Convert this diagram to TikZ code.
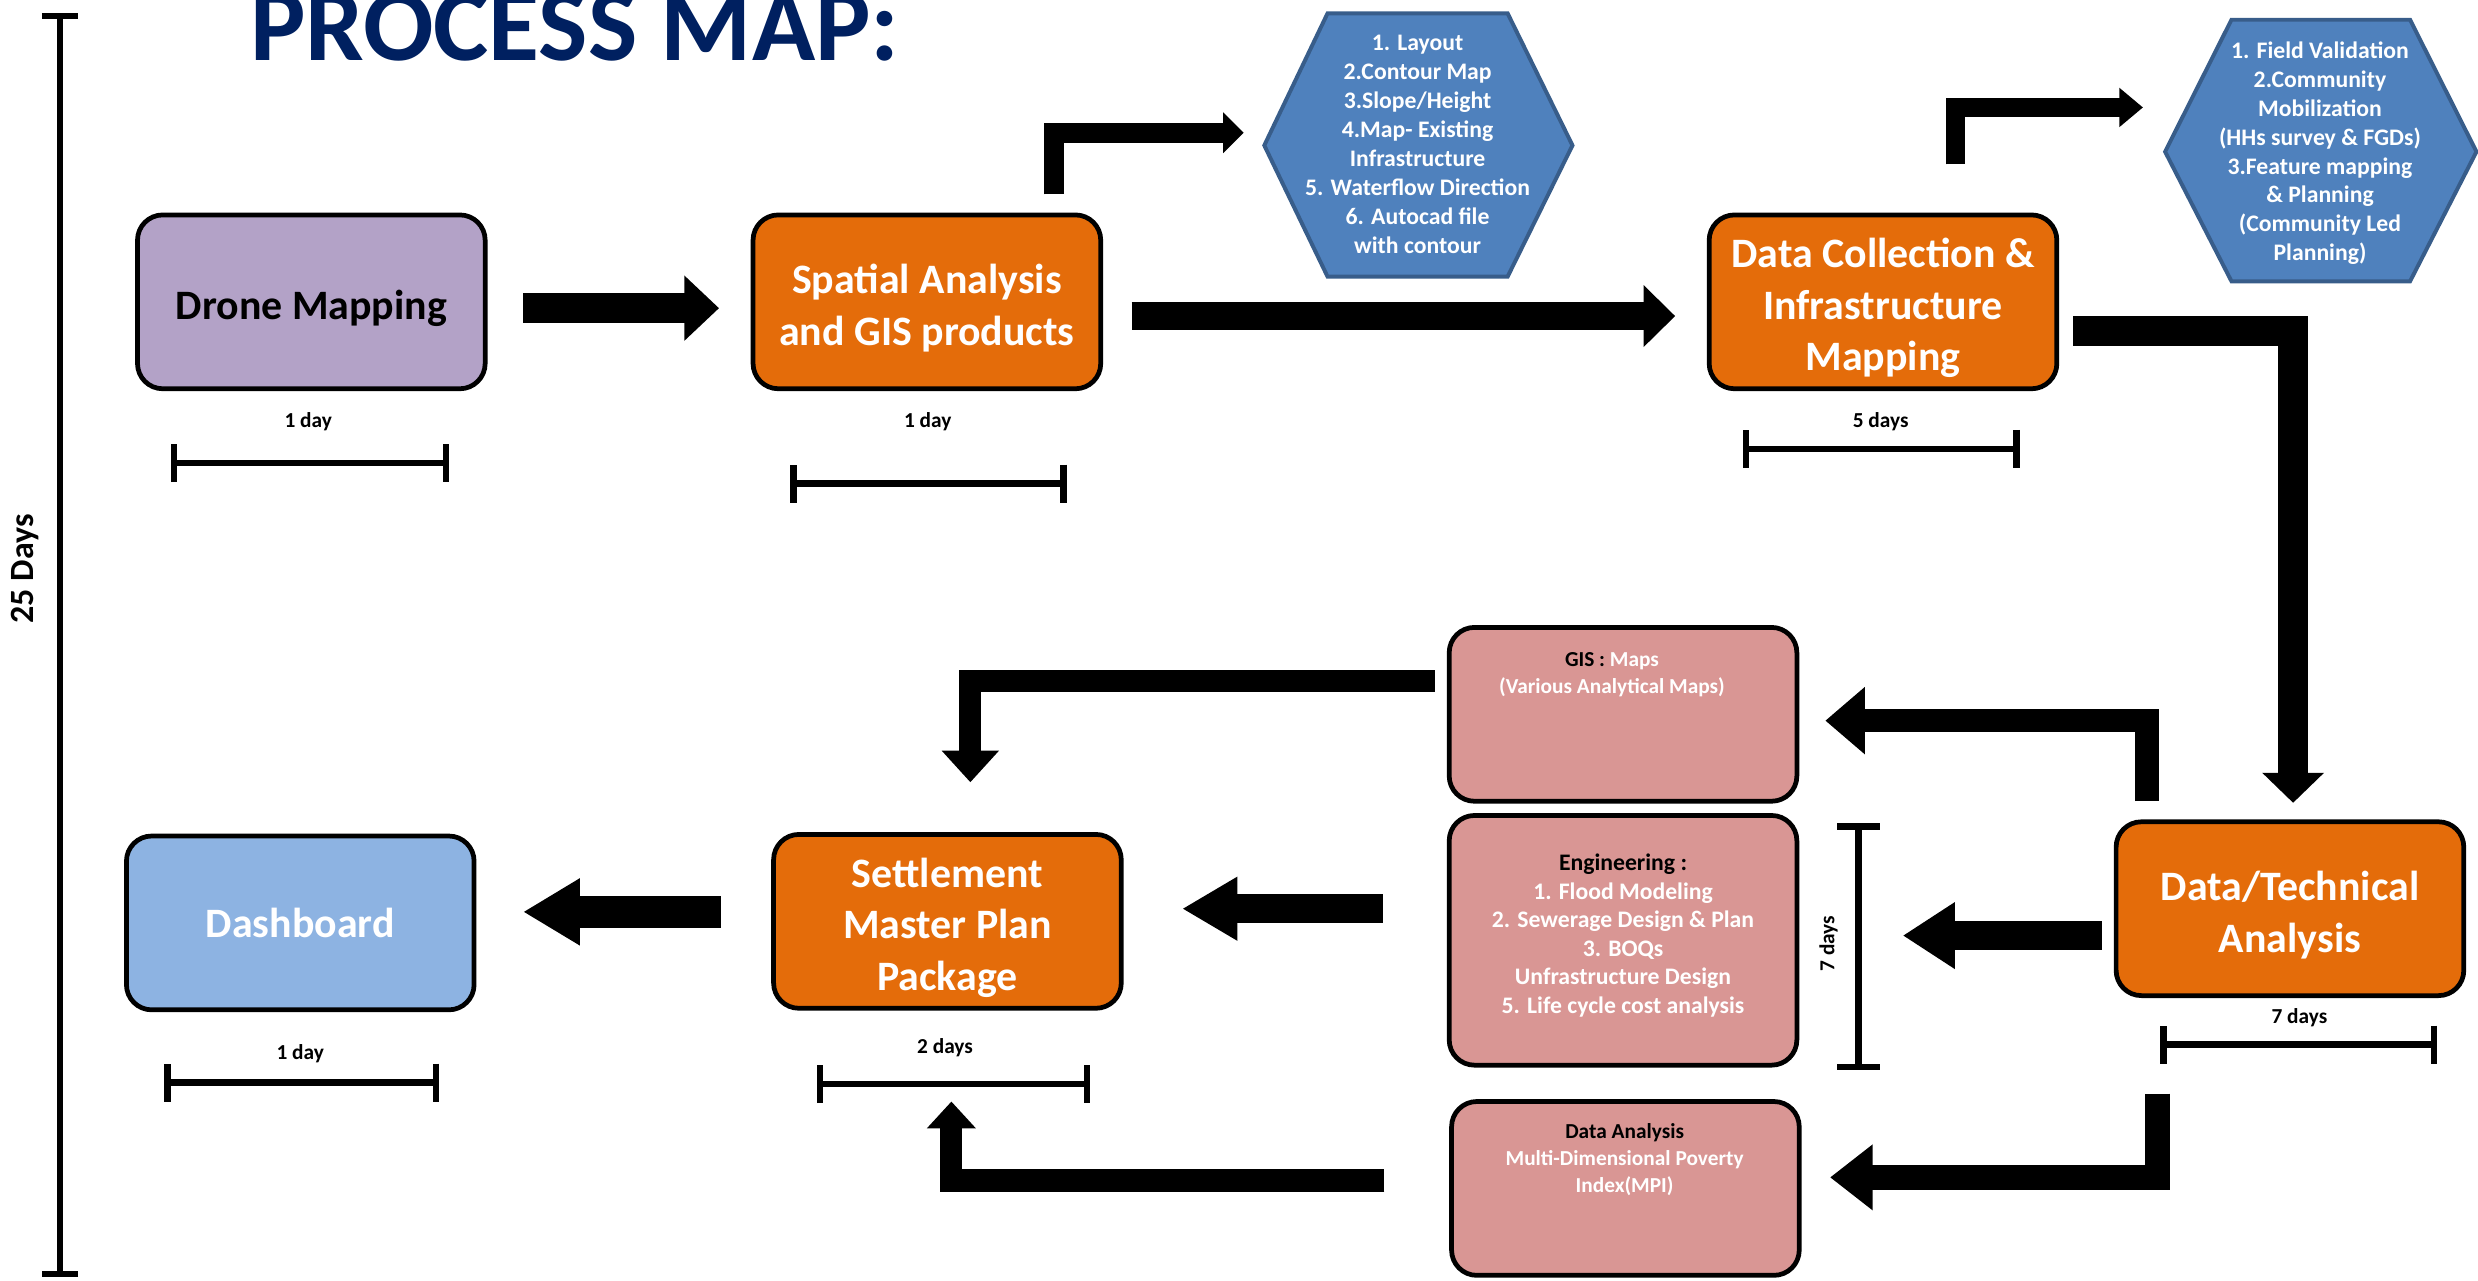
\documentclass[tikz,border=0pt]{standalone}
\usepackage{fontspec}
\setmainfont{Carlito}
\usetikzlibrary{arrows.meta,positioning}

\definecolor{titleblue}{RGB}{0,32,96}
\definecolor{lavender}{RGB}{179,162,199}
\definecolor{procorange}{RGB}{228,108,10}
\definecolor{hexblue}{RGB}{79,129,189}
\definecolor{hexedge}{RGB}{56,93,138}
\definecolor{rosebox}{RGB}{217,150,148}
\definecolor{dashblue}{RGB}{141,179,226}

\newcommand{\titlefont}{\fontsize{66}{70}\selectfont\bfseries}
\newcommand{\mainboxfont}{\fontsize{26.5}{32.5}\selectfont\bfseries}
\newcommand{\hexfont}{\fontsize{15}{18.3}\selectfont\bfseries}
\newcommand{\notefont}{\fontsize{13.5}{17}\selectfont\bfseries}
\newcommand{\engfont}{\fontsize{15}{18}\selectfont\bfseries}
\newcommand{\dayfont}{\fontsize{13.5}{16}\selectfont\bfseries}
\newcommand{\boxstrut}{\rule{0pt}{26.5pt}}

\begin{document}
\begin{tikzpicture}[x=1pt,y=-1pt]
\tikzstyle{every node}=[inner sep=0pt]
\tikzstyle{procbox}=[draw=black,line width=3pt,rounded corners=16pt,minimum width=220pt,minimum height=110pt,align=center,font=\mainboxfont]
\tikzstyle{notebox}=[procbox,fill=rosebox]
\tikzstyle{notetext}=[align=center,font=\notefont,text=white]
\tikzstyle{hexline}=[fill=hexblue,draw=hexedge,line width=2.5pt]
\tikzstyle{hextext}=[align=center,font=\hexfont,text=white]
\tikzstyle{daylabel}=[font=\dayfont]
\tikzstyle{spanbar}=[line width=4pt,{Bar[width=24pt]}-{Bar[width=24pt]}]
\tikzstyle{fatarrow}=[line width=19pt,-{Triangle[length=22pt,width=40pt]}]

\useasboundingbox (0,0) rectangle (1568,810);

\node[anchor=base west,font=\titlefont,text=titleblue] (title) at (158,38) {PROCESS MAP:};

\draw[spanbar,{Bar[width=23pt]}-{Bar[width=23pt]}] (38,8) -- (38,808);
\node[font=\fontsize{21.5}{24}\selectfont\bfseries,rotate=90] (totaldays) at (16,360) {25 Days};

\draw[hexline] (800,92) -- (840,8.5) -- (954,8.5) -- (995,92) -- (954,175) -- (840,175) -- cycle;
\draw[hexline] (1370,96) -- (1412,12.5) -- (1525,12.5) -- (1567,96) -- (1525,178) -- (1412,178) -- cycle;
\node[hextext] (layers) at (897,91.5) {1. Layout\\2.Contour Map\\3.Slope/Height\\4.Map- Existing\\Infrastructure\\5. Waterflow Direction\\6. Autocad file\\ with contour};
\node[hextext] (field) at (1468,97) {1. Field Validation\\2.Community\\Mobilization\\(HHs survey \& FGDs)\\3.Feature mapping\\\& Planning\\(Community Led\\Planning)};

\node[procbox,fill=lavender] (drone) at (197,191) {\boxstrut Drone Mapping};
\node[procbox,fill=procorange,text=white] (spatial) at (586.5,191) {\boxstrut Spatial Analysis\\and GIS products};
\node[procbox,fill=procorange,text=white] (collect) at (1191.5,191) {\boxstrut Data Collection \&\\Infrastructure\\Mapping};
\node[procbox,fill=procorange,text=white] (technical) at (1449,575) {\boxstrut Data/Technical\\Analysis};
\node[procbox,fill=procorange,text=white] (settle) at (599.5,583) {\boxstrut Settlement\\Master Plan\\Package};
\node[procbox,fill=dashblue,text=white] (dash) at (190,584) {Dashboard};

\node[notebox] (gis) at (1027,452) {};
\node[notebox,minimum height=158pt] (eng) at (1027,595) {};
\node[notebox] (analysis) at (1028.5,752) {};
\node[notetext] (gistext) at (1020,427) {\textcolor{black}{GIS :} Maps\\(Various Analytical Maps)};
\node[notetext,font=\engfont] (engtext) at (1027,592) {\textcolor{black}{Engineering :}\\1. Flood Modeling\\2. Sewerage Design \& Plan\\3. BOQs\\Unfrastructure Design\\5. Life cycle cost analysis};
\node[notetext] (analysistext) at (1028,734) {\textcolor{black}{Data Analysis}\\Multi-Dimensional Poverty\\Index(MPI)};

\node[daylabel] (dronedays) at (195,267) {1 day};
\node[daylabel] (spatialdays) at (587,267) {1 day};
\node[daylabel] (collectdays) at (1190,267) {5 days};
\node[daylabel] (technicaldays) at (1455,644) {7 days};
\node[daylabel] (dashdays) at (190,667) {1 day};
\node[daylabel] (settledays) at (598,663) {2 days};
\node[daylabel,rotate=90] (engdays) at (1157,597) {7 days};

\draw[spanbar] (108,293) -- (284,293);
\draw[spanbar] (500,306) -- (675,306);
\draw[spanbar] (1103,284) -- (1278,284);
\draw[spanbar] (1367,661) -- (1542,661);
\draw[spanbar] (104,685) -- (278,685);
\draw[spanbar] (517,686) -- (690,686);
\draw[spanbar,{Bar[width=27pt]}-{Bar[width=27pt]}] (1176,521) -- (1176,677);

\coordinate (DroneOut) at (331,195);
\coordinate (SpatialIn) at (455,195);
\coordinate (SpatialOut) at (716,200);
\coordinate (CollectIn) at (1060,200);
\coordinate (SpatialUp) at (667,123);
\coordinate (LayersIn) at (787,84);
\coordinate (CollectUp) at (1237.5,104);
\coordinate (FieldIn) at (1356,68);
\coordinate (CollectOut) at (1312,209.5);
\coordinate (TechnicalIn) at (1451,508);
\coordinate (TechnicalUp) at (1358.5,507);
\coordinate (GisIn) at (1155,456);
\coordinate (TechnicalLeft) at (1330,592);
\coordinate (EngIn) at (1204,592);
\coordinate (TechnicalDown) at (1365,692);
\coordinate (AnalysisIn) at (1158,745);
\coordinate (GisOut) at (908,431);
\coordinate (SettleTop) at (614,495);
\coordinate (EngOut) at (875,575);
\coordinate (SettleRight) at (748,575);
\coordinate (AnalysisOut) at (876,747);
\coordinate (SettleBottom) at (602,697);
\coordinate (SettleOut) at (456,577);
\coordinate (DashIn) at (331,577);

\draw[fatarrow] (DroneOut) -- (SpatialIn);
\draw[fatarrow,line width=18pt,-{Triangle[length=20pt,width=38pt]}] (SpatialOut) -- (CollectIn);
\draw[fatarrow,line width=12.5pt,-{Triangle[length=13pt,width=25pt]}] (SpatialUp) |- (LayersIn);
\draw[fatarrow,line width=12pt,-{Triangle[length=15pt,width=24pt]}] (CollectUp) |- (FieldIn);
\draw[fatarrow,-{Triangle[length=19pt,width=38pt]}] (CollectOut) -| (TechnicalIn);
\draw[fatarrow,line width=15pt,-{Triangle[length=25pt,width=41pt]}] (TechnicalUp) |- (GisIn);
\draw[fatarrow,line width=18pt,-{Triangle[length=33pt,width=40pt]}] (TechnicalLeft) -- (EngIn);
\draw[fatarrow,line width=16pt,-{Triangle[length=27pt,width=40pt]}] (TechnicalDown) |- (AnalysisIn);
\draw[fatarrow,line width=14pt,-{Triangle[length=20pt,width=35pt]}] (GisOut) -| (SettleTop);
\draw[fatarrow,line width=18pt,-{Triangle[length=35pt,width=38pt]}] (EngOut) -- (SettleRight);
\draw[fatarrow,line width=14pt,-{Triangle[length=17pt,width=30pt]}] (AnalysisOut) -| (SettleBottom);
\draw[fatarrow,line width=20pt,-{Triangle[length=36pt,width=40pt]}] (SettleOut) -- (DashIn);
\end{tikzpicture}
\end{document}
